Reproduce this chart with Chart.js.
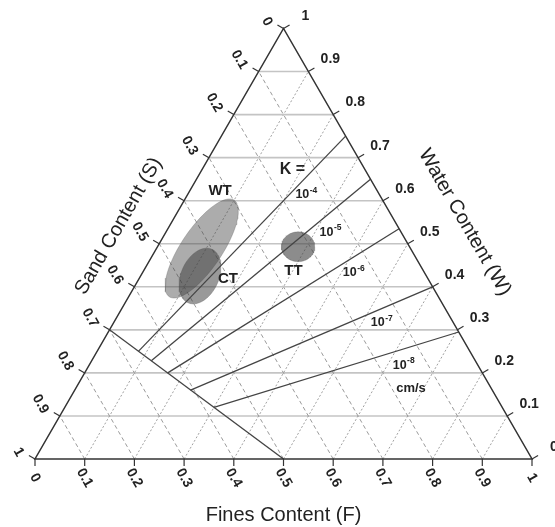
<!DOCTYPE html>
<html><head><meta charset="utf-8">
<script src="https://cdn.jsdelivr.net/npm/chart.js@4/dist/chart.umd.min.js"></script>
<style>html,body{margin:0;padding:0;background:#fff;}canvas{display:block;}</style>
</head><body>
<canvas id="c" width="555" height="527"></canvas>
<script>
// ---------- data ----------
const tickValues = [0,0.1,0.2,0.3,0.4,0.5,0.6,0.7,0.8,0.9,1];
const tickLabels = ['0','0.1','0.2','0.3','0.4','0.5','0.6','0.7','0.8','0.9','1'];
const axisTitles = ['Fines Content (F)','Sand Content (S)','Water Content (W)'];

// boundary line (F, W)
const boundaryF = [0, 0.5];
const boundaryW = [0.3, 0];

// hydraulic conductivity lines
const kExponents = ['-4','-5','-6','-7','-8'];
const kStartF = [0.083, 0.12, 0.167, 0.233, 0.30];
const kStartW = [0.25, 0.228, 0.20, 0.16, 0.12];
const kEndF   = [0.25, 0.35, 0.465, 0.60, 0.705];
const kEndW   = [0.75, 0.65, 0.535, 0.40, 0.295];
const kLabelF = [0.237, 0.329, 0.423, 0.5375, 0.631];
const kLabelW = [0.617, 0.530, 0.4356, 0.3195, 0.2207];

// data regions (ellipses), centre in (F, W), semi-axes in side-length units
const regionNames = ['WT','CT','TT'];
const regionF     = [0.091, 0.1195, 0.283];
const regionW     = [0.489, 0.425, 0.493];
const regionA     = [0.117, 0.059, 0.0336];
const regionB     = [0.041, 0.038, 0.030];
const regionAngle = [56, 66, 0];
const regionLabelF = [0.061, 0.1786, 0.3017];
const regionLabelW = [0.6227, 0.4194, 0.4368];

// ---------- helpers ----------
const SQ = Math.sqrt(3)/2;
function cart(F, W){ return {x: F + W/2, y: W*SQ}; }
function px(chart, F, W){
  const c = cart(F, W);
  return {x: chart.scales.x.getPixelForValue(c.x), y: chart.scales.y.getPixelForValue(c.y)};
}
function ellipsePoints(i){
  const c = cart(regionF[i], regionW[i]);
  const th = regionAngle[i]*Math.PI/180, pts = [];
  for (let k = 0; k <= 90; k++){
    const t = k/90*2*Math.PI;
    const ex = regionA[i]*Math.cos(t), ey = regionB[i]*Math.sin(t);
    pts.push({x: c.x + ex*Math.cos(th) - ey*Math.sin(th), y: c.y + ex*Math.sin(th) + ey*Math.cos(th)});
  }
  return pts;
}

// ---------- datasets ----------
const regionFill = ['rgba(70,70,70,0.45)','rgba(60,60,60,0.52)','rgba(70,70,70,0.62)'];
const datasets = [];
regionNames.forEach((n, i) => {
  datasets.push({label: n, data: ellipsePoints(i), showLine: true, fill: 'shape',
    backgroundColor: regionFill[i], borderColor: 'rgba(80,80,80,0.35)', borderWidth: 0.8,
    pointRadius: 0, tension: 0, order: 10 - i});
});
datasets.push({label: 'boundary', data: boundaryF.map((f, j) => cart(f, boundaryW[j])),
  showLine: true, fill: false, borderColor: '#444', borderWidth: 1.3, pointRadius: 0, order: 1});
kExponents.forEach((e, i) => {
  datasets.push({label: 'K' + e, data: [cart(kStartF[i], kStartW[i]), cart(kEndF[i], kEndW[i])],
    showLine: true, fill: false, borderColor: '#444', borderWidth: 1.3, pointRadius: 0, order: 1});
});

// ---------- plugins ----------
const gridPlugin = {
  id: 'ternGrid',
  beforeDatasetsDraw(chart){
    const ctx = chart.ctx;
    ctx.save();
    tickValues.forEach(v => {
      if (v <= 0 || v >= 1) return;
      // W constant (solid light)
      let a = px(chart, 0, v), b = px(chart, 1 - v, v);
      ctx.setLineDash([]); ctx.strokeStyle = '#c4c4c4'; ctx.lineWidth = 1.6;
      ctx.beginPath(); ctx.moveTo(a.x, a.y); ctx.lineTo(b.x, b.y); ctx.stroke();
      // F constant (dotted)
      a = px(chart, v, 0); b = px(chart, v, 1 - v);
      ctx.setLineDash([2, 2]); ctx.strokeStyle = '#a0a0a0'; ctx.lineWidth = 1;
      ctx.beginPath(); ctx.moveTo(a.x, a.y); ctx.lineTo(b.x, b.y); ctx.stroke();
      // S constant (dashed)
      a = px(chart, 1 - v, 0); b = px(chart, 0, 1 - v);
      ctx.setLineDash([4, 3]); ctx.strokeStyle = '#9a9a9a'; ctx.lineWidth = 1;
      ctx.beginPath(); ctx.moveTo(a.x, a.y); ctx.lineTo(b.x, b.y); ctx.stroke();
    });
    ctx.restore();
  },
  afterDatasetsDraw(chart){
    const ctx = chart.ctx;
    ctx.save();
    ctx.setLineDash([]);
    const BL = px(chart, 0, 0), BR = px(chart, 1, 0), T = px(chart, 0, 1);
    // frame
    ctx.strokeStyle = '#333'; ctx.lineWidth = 1.5;
    ctx.beginPath(); ctx.moveTo(BL.x, BL.y); ctx.lineTo(BR.x, BR.y); ctx.lineTo(T.x, T.y); ctx.closePath(); ctx.stroke();
    // ticks
    const tl = 7;
    ctx.lineWidth = 1.2;
    tickValues.forEach(v => {
      let p = px(chart, v, 0);
      ctx.beginPath(); ctx.moveTo(p.x, p.y); ctx.lineTo(p.x, p.y + tl); ctx.stroke();
      p = px(chart, 0, 1 - v); // S = v on left edge
      ctx.beginPath(); ctx.moveTo(p.x, p.y); ctx.lineTo(p.x - tl*0.866, p.y - tl*0.5); ctx.stroke();
      p = px(chart, 1 - v, v); // W = v on right edge
      ctx.beginPath(); ctx.moveTo(p.x, p.y); ctx.lineTo(p.x + tl*0.866, p.y - tl*0.5); ctx.stroke();
    });
    // tick labels
    ctx.fillStyle = '#222';
    ctx.font = 'bold 14px "Liberation Sans", Arial, sans-serif';
    tickValues.forEach((v, i) => {
      // bottom (F)
      let p = px(chart, v, 0);
      ctx.save(); ctx.translate(p.x, p.y + 19); ctx.rotate(Math.PI/3);
      ctx.textAlign = 'center'; ctx.textBaseline = 'middle'; ctx.fillText(tickLabels[i], 0, 0); ctx.restore();
      // left (S)
      p = px(chart, 0, 1 - v);
      ctx.save(); ctx.translate(p.x - 14.5, p.y - 3.5); ctx.rotate(Math.PI/3);
      ctx.textAlign = 'right'; ctx.textBaseline = 'middle'; ctx.fillText(tickLabels[i], 0, 0); ctx.restore();
      // right (W)
      p = px(chart, 1 - v, v);
      ctx.textAlign = 'center'; ctx.textBaseline = 'middle';
      ctx.fillText(tickLabels[i], p.x + 22, p.y - 12);
    });
    // axis titles
    ctx.font = '20px "Liberation Sans", Arial, sans-serif';
    ctx.textAlign = 'center'; ctx.textBaseline = 'middle';
    const mid = px(chart, 0.5, 0);
    ctx.fillText(axisTitles[0], mid.x, mid.y + 56);
    let lm = px(chart, 0, 0.49);
    ctx.save(); ctx.translate(lm.x - 44*0.866, lm.y - 44*0.5); ctx.rotate(-Math.PI/3); ctx.fillText(axisTitles[1], 0, 0); ctx.restore();
    let rm = px(chart, 0.52, 0.48);
    ctx.save(); ctx.translate(rm.x + 60*0.866, rm.y - 60*0.5); ctx.rotate(Math.PI/3); ctx.fillText(axisTitles[2], 0, 0); ctx.restore();
    // region labels
    ctx.font = 'bold 15px "Liberation Sans", Arial, sans-serif';
    regionNames.forEach((n, i) => {
      const p = px(chart, regionLabelF[i], regionLabelW[i]);
      ctx.fillText(n, p.x, p.y);
    });
    // K =
    ctx.font = 'bold 16px "Liberation Sans", Arial, sans-serif';
    const kp = px(chart, 0.1824, 0.6715);
    ctx.fillText('K =', kp.x, kp.y);
    // exponents
    kExponents.forEach((e, i) => {
      const p = px(chart, kLabelF[i], kLabelW[i]);
      ctx.font = 'bold 12.5px "Liberation Sans", Arial, sans-serif';
      const w1 = ctx.measureText('10').width;
      ctx.font = 'bold 8.5px "Liberation Sans", Arial, sans-serif';
      const w2 = ctx.measureText(e).width;
      const x0 = p.x - (w1 + w2)/2;
      ctx.textAlign = 'left'; ctx.textBaseline = 'alphabetic';
      ctx.font = 'bold 12.5px "Liberation Sans", Arial, sans-serif';
      ctx.fillText('10', x0, p.y + 5);
      ctx.font = 'bold 8.5px "Liberation Sans", Arial, sans-serif';
      ctx.fillText(e, x0 + w1 + 0.5, p.y - 0.5);
    });
    ctx.font = 'bold 13px "Liberation Sans", Arial, sans-serif';
    ctx.textAlign = 'center'; ctx.textBaseline = 'middle';
    const cp = px(chart, 0.6746, 0.1638);
    ctx.fillText('cm/s', cp.x, cp.y);
    ctx.restore();
  }
};

new Chart(document.getElementById('c'), {
  type: 'scatter',
  data: {datasets},
  options: {
    responsive: false, animation: false, devicePixelRatio: 1,
    layout: {padding: {left: 35, right: 23, top: 28.5, bottom: 68}},
    scales: {
      x: {type: 'linear', min: 0, max: 1, display: false},
      y: {type: 'linear', min: 0, max: SQ, display: false}
    },
    plugins: {legend: {display: false}, tooltip: {enabled: false}}
  },
  plugins: [gridPlugin]
});
</script>
</body></html>
